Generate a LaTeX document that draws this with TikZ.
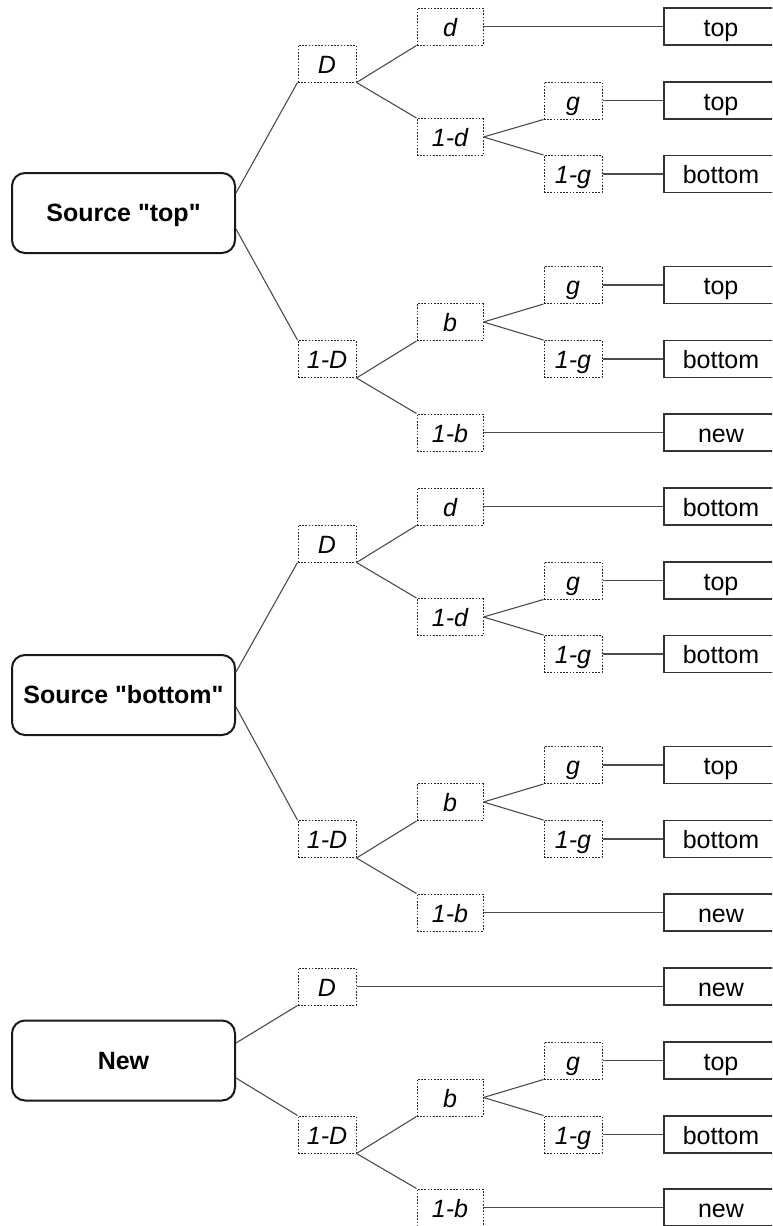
\documentclass[tikz,border=0pt]{standalone}
\usepackage{fontspec}
% a family without TeX ligature mapping, so that " stays a straight quote
\newfontfamily\labelfont{Liberation Sans}
\begin{document}
\begin{tikzpicture}[x=1pt,y=-1pt,
  every node/.style={inner sep=0pt, font=\labelfont\fontsize{25}{30}\selectfont},
  src/.style={draw=black!90, line width=2pt, rounded corners=13pt,
    minimum width=223pt, minimum height=80pt, text height=17pt, text depth=0pt,
    font=\labelfont\fontsize{25}{30}\selectfont\bfseries},
  prob/.style={draw=black!85, line width=1pt, dash pattern=on 1.6pt off 1.6pt,
    minimum height=37pt, text height=19pt, text depth=0pt,
    font=\labelfont\fontsize{25}{30}\selectfont\itshape},
  ps/.style={prob, minimum width=58pt},
  pm/.style={prob, minimum width=66pt},
  leaf/.style={draw=black!80, line width=1.3pt, minimum width=114pt,
    minimum height=37pt, text height=19pt, text depth=0pt},
  link/.style={draw=black!70, line width=1.1pt},
]
\useasboundingbox (0,0) rectangle (772,1226);
\clip (0,0) rectangle (772,1226);

% ---- tree for source "top" ----
\node[src] (s1) at (123.5,213) {Source "top"};
\node[ps] (D1)   at (327,63.5) {D};
\node[pm] (d1)   at (450,26.5) {d};
\node[pm] (nd1)  at (450,137)  {1-d};
\node[ps] (g1)   at (573,100.5) {g};
\node[ps] (ng1)  at (573,174)  {1-g};
\node[ps] (nD1)  at (327,359)  {1-D};
\node[pm] (b1)   at (450,322)  {b};
\node[ps] (gb1)  at (573,285)  {g};
\node[ps] (ngb1) at (573,359)  {1-g};
\node[pm] (nb1)  at (450,432.5) {1-b};
\node[leaf] (l11) at (721,26.5)  {top};
\node[leaf] (l12) at (721,100.5) {top};
\node[leaf] (l13) at (721,174)   {bottom};
\node[leaf] (l14) at (721,285)   {top};
\node[leaf] (l15) at (721,359)   {bottom};
\node[leaf] (l16) at (721,432.5) {new};

\draw[link] ([yshift=20pt]s1.east) -- (D1.south west);
\draw[link] ([yshift=-16pt]s1.east) -- (nD1.north west);
\draw[link] (D1.south east) -- (d1.south west);
\draw[link] (D1.south east) -- (nd1.north west);
\draw[link] (nd1.east) -- (g1.south west);
\draw[link] (nd1.east) -- (ng1.north west);
\draw[link] (nD1.south east) -- (b1.south west);
\draw[link] (nD1.south east) -- (nb1.north west);
\draw[link] (b1.east) -- (gb1.south west);
\draw[link] (b1.east) -- (ngb1.north west);
\draw[link] (d1.east) -- (l11.west);
\draw[link] (g1.east) -- (l12.west);
\draw[link] (ng1.east) -- (l13.west);
\draw[link] (gb1.east) -- (l14.west);
\draw[link] (ngb1.east) -- (l15.west);
\draw[link] (nb1.east) -- (l16.west);

% ---- tree for source "bottom" ----
\node[src] (s2) at (123.5,695) {Source "bottom"};
\node[ps] (D2)   at (327,543.5) {D};
\node[pm] (d2)   at (450,506.5) {d};
\node[pm] (nd2)  at (450,617)   {1-d};
\node[ps] (g2)   at (573,580.5) {g};
\node[ps] (ng2)  at (573,654)   {1-g};
\node[ps] (nD2)  at (327,839)   {1-D};
\node[pm] (b2)   at (450,802)   {b};
\node[ps] (gb2)  at (573,765)   {g};
\node[ps] (ngb2) at (573,839)   {1-g};
\node[pm] (nb2)  at (450,912.5) {1-b};
\node[leaf] (l21) at (721,506.5) {bottom};
\node[leaf] (l22) at (721,580.5) {top};
\node[leaf] (l23) at (721,654)   {bottom};
\node[leaf] (l24) at (721,765)   {top};
\node[leaf] (l25) at (721,839)   {bottom};
\node[leaf] (l26) at (721,912.5) {new};

\draw[link] ([yshift=23pt]s2.east) -- (D2.south west);
\draw[link] ([yshift=-12pt]s2.east) -- (nD2.north west);
\draw[link] (D2.south east) -- (d2.south west);
\draw[link] (D2.south east) -- (nd2.north west);
\draw[link] (nd2.east) -- (g2.south west);
\draw[link] (nd2.east) -- (ng2.north west);
\draw[link] (nD2.south east) -- (b2.south west);
\draw[link] (nD2.south east) -- (nb2.north west);
\draw[link] (b2.east) -- (gb2.south west);
\draw[link] (b2.east) -- (ngb2.north west);
\draw[link] (d2.east) -- (l21.west);
\draw[link] (g2.east) -- (l22.west);
\draw[link] (ng2.east) -- (l23.west);
\draw[link] (gb2.east) -- (l24.west);
\draw[link] (ngb2.east) -- (l25.west);
\draw[link] (nb2.east) -- (l26.west);

% ---- tree for new ----
\node[src] (s3) at (123.5,1060.5) {New};
\node[ps] (D3)   at (327,986.5)  {D};
\node[ps] (nD3)  at (327,1134.5) {1-D};
\node[pm] (b3)   at (450,1097.5) {b};
\node[ps] (gb3)  at (573,1060.5) {g};
\node[ps] (ngb3) at (573,1134.5) {1-g};
\node[pm] (nb3)  at (450,1207.5) {1-b};
\node[leaf] (l31) at (721,986.5)  {new};
\node[leaf] (l32) at (721,1060.5) {top};
\node[leaf] (l33) at (721,1134.5) {bottom};
\node[leaf] (l34) at (721,1207.5) {new};

\draw[link] ([yshift=17.5pt]s3.east) -- (D3.south west);
\draw[link] ([yshift=-17.5pt]s3.east) -- (nD3.north west);
\draw[link] (nD3.south east) -- (b3.south west);
\draw[link] (nD3.south east) -- (nb3.north west);
\draw[link] (b3.east) -- (gb3.south west);
\draw[link] (b3.east) -- (ngb3.north west);
\draw[link] (D3.east) -- (l31.west);
\draw[link] (gb3.east) -- (l32.west);
\draw[link] (ngb3.east) -- (l33.west);
\draw[link] (nb3.east) -- (l34.west);
\end{tikzpicture}
\end{document}
